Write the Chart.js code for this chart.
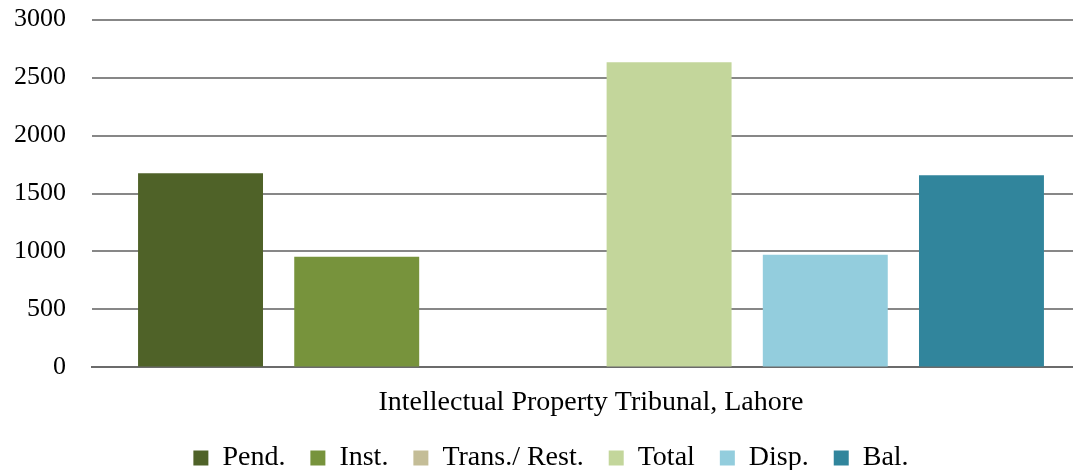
<!DOCTYPE html>
<html>
<head>
<meta charset="utf-8">
<script src="https://cdn.jsdelivr.net/npm/chart.js@4/dist/chart.umd.min.js"></script>
<style>
  html, body { margin: 0; padding: 0; background: #fff; overflow: hidden; }
  #wrap { width: 1090px; height: 492px; position: relative; top: -22px; }
</style>
</head>
<body>
<div id="wrap"><canvas id="graph"></canvas></div>
<script>
// one court, six series
var categories = ["Intellectual Property Tribunal, Lahore"];
var seriesNames = ["Pend.", "Inst.", "Trans./ Rest.", "Total", "Disp.", "Bal."];
var pend = [1675];
var inst = [955];
var transRest = [0];
var total = [2632];
var disp = [972];
var bal = [1658];
var colors = ["#4F6228", "#77933C", "#C4BD97", "#C3D69B", "#93CDDD", "#31859C"];

var values = [pend, inst, transRest, total, disp, bal];
var datasets = seriesNames.map(function (name, i) {
  return {
    label: name,
    data: values[i],
    backgroundColor: colors[i],
    borderWidth: 0,
    categoryPercentage: 0.939,
    barPercentage: 0.8
  };
});

var chart = new Chart("graph", {
  type: "bar",
  data: {
    labels: categories,
    datasets: datasets
  },
  options: {
    responsive: true,
    maintainAspectRatio: false,
    animation: false,
    layout: { padding: { top: 0, left: 12, right: 0, bottom: -12 } },
    plugins: {
      tooltip: { enabled: false },
      legend: {
        position: "bottom",
        labels: {
          color: "#000",
          boxWidth: 15,
          boxHeight: 15,
          padding: 25,
          font: { family: "Liberation Serif", size: 28 }
        }
      }
    },
    scales: {
      x: {
        grid: { display: false, drawTicks: false },
        border: { color: "#6b6b6b", width: 2 },
        ticks: { display: false },
        title: {
          display: true,
          text: categories[0],
          color: "#000",
          padding: { top: 18, bottom: 0 },
          font: { family: "Liberation Serif", size: 28 }
        }
      },
      y: {
        min: 0,
        max: 3000,
        border: { display: false },
        grid: { color: "#878787", lineWidth: 2, drawTicks: false },
        afterFit: function (scale) { scale.width = 80; },
        ticks: {
          stepSize: 500,
          color: "#000",
          padding: 26,
          font: { family: "Liberation Serif", size: 26 },
          callback: function (v) { return String(v); }
        }
      }
    }
  }
});
</script>
</body>
</html>
